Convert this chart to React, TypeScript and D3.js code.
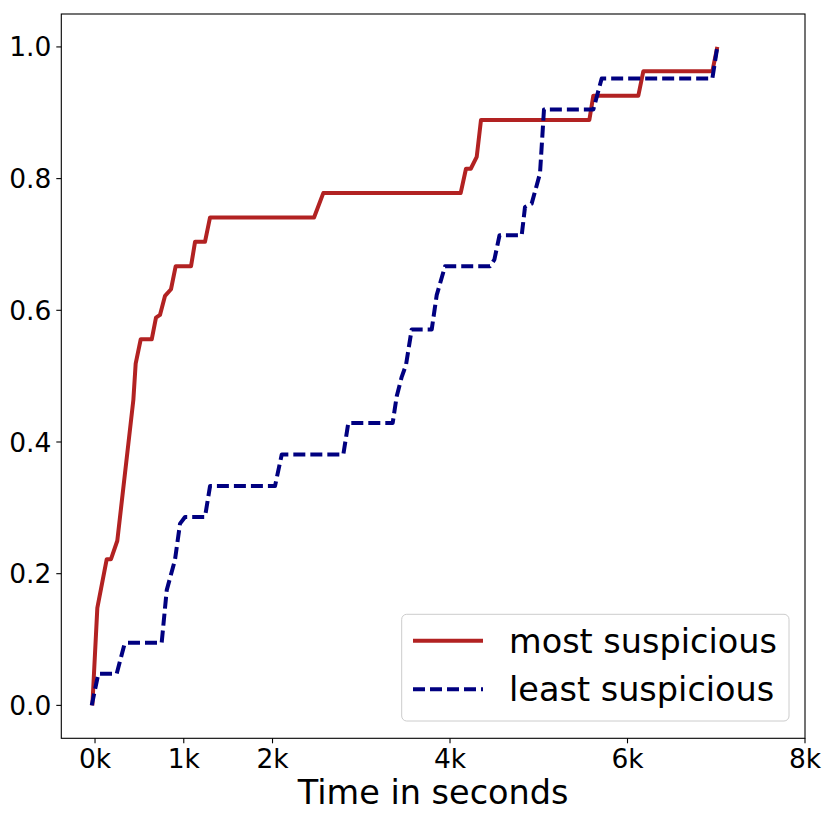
import React from "react";
import * as d3 from "d3";

// time (seconds) and cumulative fraction for each series
const mostX: number[] = [-30, 26, 132, 180, 251, 432, 458, 515, 639, 687, 732, 789, 856, 909, 1082, 1127, 1239, 1296, 1333, 2468, 2572, 4120, 4180, 4234, 4301, 4349, 5570, 5615, 6122, 6178, 6956, 7012];
const mostY: number[] = [0, 0.148, 0.222, 0.222, 0.25, 0.464, 0.519, 0.556, 0.556, 0.589, 0.593, 0.622, 0.632, 0.667, 0.667, 0.704, 0.704, 0.741, 0.741, 0.741, 0.778, 0.778, 0.815, 0.815, 0.833, 0.889, 0.889, 0.926, 0.926, 0.963, 0.963, 1.0];

const leastX: number[] = [-37, 37, 244, 330, 357, 751, 808, 901, 958, 1014, 1239, 1296, 2028, 2104, 2798, 2854, 3354, 3399, 3456, 3504, 3568, 3794, 3850, 3944, 4451, 4500, 4558, 4808, 4845, 4920, 5014, 5059, 5615, 5709, 6956, 7012];
const leastY: number[] = [0, 0.048, 0.048, 0.092, 0.095, 0.095, 0.175, 0.221, 0.276, 0.286, 0.286, 0.333, 0.333, 0.381, 0.381, 0.429, 0.429, 0.469, 0.499, 0.517, 0.571, 0.571, 0.623, 0.667, 0.667, 0.677, 0.714, 0.714, 0.757, 0.762, 0.808, 0.905, 0.905, 0.952, 0.952, 1.0];

const xTicks: number[] = [0, 1000, 2000, 4000, 6000, 8000];
const xTickLabels: string[] = ["0k", "1k", "2k", "4k", "6k", "8k"];
const yTicks: number[] = [0, 0.2, 0.4, 0.6, 0.8, 1.0];
const yTickLabels: string[] = ["0.0", "0.2", "0.4", "0.6", "0.8", "1.0"];

const seriesNames: string[] = ["most suspicious", "least suspicious"];

const W = 831;
const H = 821;
const left = 61.3;
const right = 805;
const top = 14;
const bottom = 738.3;
const font = "DejaVu Sans, sans-serif";

const App: React.FC = () => {
  const x = d3.scaleLinear().domain([-380, 8000]).range([left, right]);
  const y = d3.scaleLinear().domain([-0.05, 1.05]).range([bottom, top]);

  const line = d3
    .line<[number, number]>()
    .x((d) => x(d[0]))
    .y((d) => y(d[1]));

  const mostPts = mostX.map((v, i) => [v, mostY[i]] as [number, number]);
  const leastPts = leastX.map((v, i) => [v, leastY[i]] as [number, number]);

  return (
    <svg
      width={W}
      height={H}
      style={{ position: "absolute", left: 0, top: 0, display: "block", background: "#fff" }}
      fontFamily={font}
    >
      <path d={line(mostPts) || ""} fill="none" stroke="#b22222" strokeWidth={4} strokeLinejoin="round" />
      <path
        d={line(leastPts) || ""}
        fill="none"
        stroke="#000080"
        strokeWidth={4}
        strokeDasharray="12 5"
        strokeLinejoin="round"
      />

      {/* frame */}
      <rect x={left} y={top} width={right - left} height={bottom - top} fill="none" stroke="#000" strokeWidth={1.1} />

      {/* x axis */}
      {xTicks.map((t, i) => (
        <g key={"x" + t} transform={`translate(${x(t)},${bottom})`}>
          <line y2={5} stroke="#000" strokeWidth={1.1} />
          <text y={29.5} textAnchor="middle" fontSize={26.5} fill="#000">
            {xTickLabels[i]}
          </text>
        </g>
      ))}
      <text x={(left + right) / 2} y={804} textAnchor="middle" fontSize={33.5} fill="#000">
        Time in seconds
      </text>

      {/* y axis */}
      {yTicks.map((t, i) => (
        <g key={"y" + t} transform={`translate(${left},${y(t)})`}>
          <line x2={-5} stroke="#000" strokeWidth={1.1} />
          <text x={-10} dy="0.36em" textAnchor="end" fontSize={26.5} fill="#000">
            {yTickLabels[i]}
          </text>
        </g>
      ))}

      {/* legend */}
      <g>
        <rect x={401.7} y={614.3} width={387.3} height={106.7} rx={5} fill="#fff" fillOpacity={0.8} stroke="#ccc" strokeWidth={1} />
        <line x1={413} x2={483} y1={640.7} y2={640.7} stroke="#b22222" strokeWidth={4} />
        <line x1={413} x2={483} y1={689.3} y2={689.3} stroke="#000080" strokeWidth={4} strokeDasharray="12 5" />
        <text x={509} y={640.7} dy="0.36em" fontSize={33.5} fill="#000">
          {seriesNames[0]}
        </text>
        <text x={509} y={689.3} dy="0.36em" fontSize={33.5} fill="#000">
          {seriesNames[1]}
        </text>
      </g>
    </svg>
  );
};

export default App;
